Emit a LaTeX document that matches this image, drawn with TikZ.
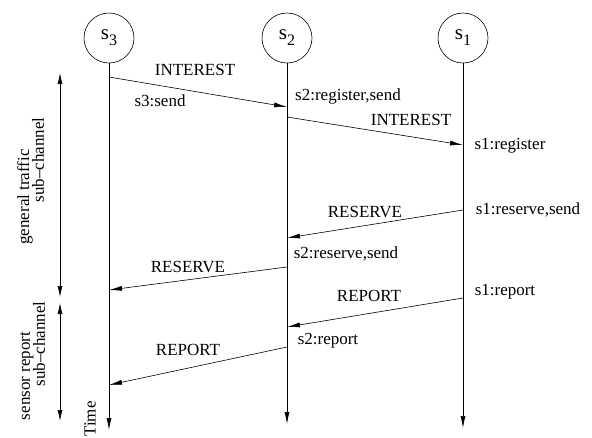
\documentclass[tikz,border=0pt]{standalone}
\usepackage{fontspec}
\setmainfont{Liberation Serif}
\usetikzlibrary{arrows.meta}

\begin{document}
\begin{tikzpicture}[x=1pt,y=-1pt,
		proc/.style={draw, circle, minimum size=50pt, inner sep=0pt, line width=0.6pt, font=\fontsize{21}{24}\selectfont},
		life/.style={-{Latex[length=12pt,width=5pt]}, line width=0.7pt},
		msg/.style={-{Latex[length=13pt,width=5pt]}, line width=0.6pt},
		span/.style={{Latex[length=11pt,width=5pt]}-{Latex[length=11pt,width=5pt]}, line width=0.7pt},
		lbl/.style={font=\fontsize{17}{20}\selectfont, inner sep=0pt},
		side/.style={lbl, rotate=90}]
		\useasboundingbox (0,0) rectangle (592,437);

		\node (s3) [proc] at (109,38) {s\raisebox{-6pt}{\fontsize{16}{16}\selectfont 3}};
		\node (s2) [proc] at (287,38) {s\raisebox{-6pt}{\fontsize{16}{16}\selectfont 2}};
		\node (s1) [proc] at (463,38) {s\raisebox{-6pt}{\fontsize{16}{16}\selectfont 1}};
		\coordinate (s3end) at (109,430);
		\coordinate (s2end) at (287,424);
		\coordinate (s1end) at (463,428);

		% message end points on the lifelines
		\coordinate (int1a) at (109,77);
		\coordinate (int1b) at (287,107);
		\coordinate (int2a) at (287,117);
		\coordinate (int2b) at (463,145);
		\coordinate (res1a) at (463,210);
		\coordinate (res1b) at (287,238);
		\coordinate (res2a) at (287,267);
		\coordinate (res2b) at (109,290);
		\coordinate (rep1a) at (463,298);
		\coordinate (rep1b) at (287,327);
		\coordinate (rep2a) at (287,347);
		\coordinate (rep2b) at (109,385);

		% labels
		\node (int1) [lbl] at (195,70) {INTEREST};
		\node (send3) [lbl] at (160,101) {s3:send};
		\node (reg2) [lbl] at (348,96) {s2:register,send};
		\node (int2) [lbl] at (411,120) {INTEREST};
		\node (reg1) [lbl] at (510,146) {s1:register};
		\node (res1) [lbl] at (365,212) {RESERVE};
		\node (rsv1) [lbl] at (528,210) {s1:reserve,send};
		\node (rsv2) [lbl] at (346,254) {s2:reserve,send};
		\node (res2) [lbl] at (188,267) {RESERVE};
		\node (rep1) [lbl] at (369,296) {REPORT};
		\node (rpt1) [lbl] at (505,292) {s1:report};
		\node (rpt2) [lbl] at (328,341) {s2:report};
		\node (rep2) [lbl] at (188,350) {REPORT};

		% sub-channels
		\coordinate (gtop) at (60,73);
		\coordinate (gbot) at (60,297);
		\coordinate (stop) at (60,303);
		\coordinate (sbot) at (60,421);
		\node (gen1) [side] at (25,197) {general traffic};
		\node (gen2) [side] at (38,160) {sub--channel};
		\node (sen1) [side] at (27,376) {sensor report};
		\node (sen2) [side] at (39,344) {sub--channel};
		\node (time) [side] at (90,419) {Time};

		% Arrows
		\draw[life] (s3) -- (s3end);
		\draw[life] (s2) -- (s2end);
		\draw[life] (s1) -- (s1end);
		\draw[msg] (int1a) -- (int1b);
		\draw[msg] (int2a) -- (int2b);
		\draw[msg] (res1a) -- (res1b);
		\draw[msg] (res2a) -- (res2b);
		\draw[msg] (rep1a) -- (rep1b);
		\draw[msg] (rep2a) -- (rep2b);
		\draw[span] (gtop) -- (gbot);
		\draw[span] (stop) -- (sbot);
	\end{tikzpicture}
\end{document}
